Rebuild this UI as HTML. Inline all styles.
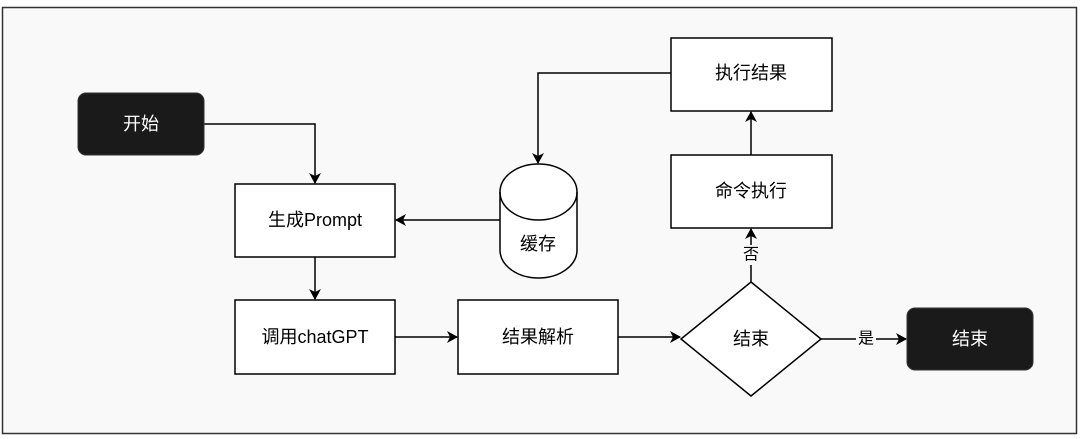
<!DOCTYPE html>
<html><head><meta charset="utf-8"><style>
html,body{margin:0;padding:0;background:#fff;}
svg{display:block;}
text{font-family:"Liberation Sans","Noto Sans CJK SC",sans-serif;font-size:18px;text-anchor:middle;dominant-baseline:central;}
</style></head><body>
<svg width="1080" height="439" viewBox="0 0 1080 439">
<defs><marker id="a" markerWidth="12" markerHeight="12" refX="10" refY="6" orient="auto" markerUnits="userSpaceOnUse"><path d="M0,0 L11,6 L0,12 L3,6 Z" fill="#000"/></marker></defs>
<rect x="2.5" y="7.5" width="1074" height="426" fill="#f9f9f9" stroke="#333" stroke-width="1.5"/>
<g stroke="#000" stroke-width="1.5" fill="none">
<polyline points="204,124 315,124 315,183" marker-end="url(#a)"/>
<polyline points="671,73 538,73 538,163" marker-end="url(#a)"/>
<line x1="500" y1="220" x2="396" y2="220" marker-end="url(#a)"/>
<line x1="315" y1="257" x2="315" y2="299" marker-end="url(#a)"/>
<line x1="395" y1="337" x2="457" y2="337" marker-end="url(#a)"/>
<line x1="618" y1="337" x2="680" y2="337" marker-end="url(#a)"/>
<line x1="821" y1="339" x2="906" y2="339" marker-end="url(#a)"/>
<line x1="751" y1="282" x2="751" y2="229" marker-end="url(#a)"/>
<line x1="751" y1="155" x2="751" y2="112" marker-end="url(#a)"/>
</g>
<rect x="78" y="93" width="126" height="62" rx="8" fill="#1a1a1a" stroke="#333"/>
<text x="141" y="124" fill="#fff">开始</text>
<rect x="907" y="308" width="126" height="62" rx="8" fill="#1a1a1a" stroke="#333"/>
<text x="970" y="339" fill="#fff">结束</text>
<g fill="#fff" stroke="#000" stroke-width="1.5">
<rect x="235" y="184" width="160" height="73"/>
<rect x="235" y="300" width="160" height="74"/>
<rect x="458" y="300" width="160" height="74"/>
<rect x="671" y="38" width="161" height="73"/>
<rect x="671" y="155" width="161" height="73"/>
<polygon points="751,282 821,339 751,396 681,339"/>
<path d="M500,192 A38.5,28 0 0 1 577,192 L577,250 A38.5,28 0 0 1 500,250 Z"/>
<path d="M500,192 A38.5,28 0 0 0 577,192" fill="none"/>
</g>
<text x="315" y="220">生成Prompt</text>
<text x="315" y="337">调用chatGPT</text>
<text x="538" y="337">结果解析</text>
<text x="751" y="73">执行结果</text>
<text x="751" y="191">命令执行</text>
<text x="751" y="339">结束</text>
<text x="538" y="244">缓存</text>
<rect x="742" y="245" width="18" height="20" fill="#f9f9f9"/>
<text x="751" y="255" style="font-size:16px">否</text>
<rect x="856" y="330" width="20" height="18" fill="#f9f9f9"/>
<text x="866" y="339" style="font-size:16px">是</text>
</svg>
</body></html>
